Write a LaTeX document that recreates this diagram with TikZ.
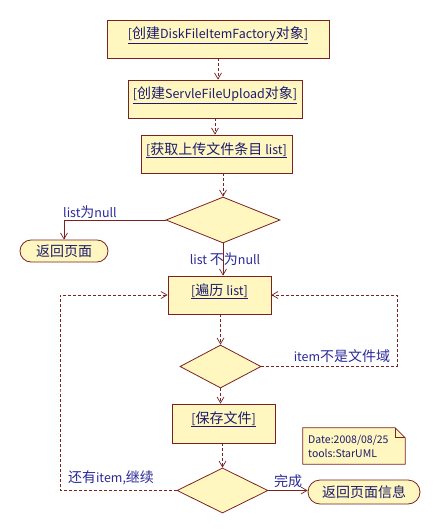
\documentclass[tikz,border=0pt]{standalone}
\usepackage{fontspec}
\setmainfont{Noto Sans CJK SC}
\usetikzlibrary{arrows.meta,shapes.geometric,shapes.misc,calc}
\definecolor{boxfill}{HTML}{FFF7BF}
\definecolor{boxline}{HTML}{7A2222}
\definecolor{txt}{HTML}{1C1C6E}
\definecolor{lbl}{HTML}{2A2A9A}
\newcommand\zh[1]{{\fontsize{14}{14}\selectfont #1}}
\begin{document}
\begin{tikzpicture}[x=1pt,y=-1pt,
  act/.style={rectangle, draw=boxline, fill=boxfill, line width=0.8pt, inner sep=0pt,
    text=txt, font=\fontsize{12.5}{13}\selectfont, text height=19pt, text depth=19pt},
  dia/.style={diamond, draw=boxline, fill=boxfill, line width=0.8pt, inner sep=0pt},
  term/.style={rounded rectangle, draw=boxline, fill=boxfill, line width=0.8pt, inner sep=0pt,
    text=txt, font=\fontsize{12.5}{13}\selectfont},
  lab/.style={text=lbl, font=\fontsize{12.5}{13}\selectfont, inner sep=0pt},
  flow/.style={draw=boxline, line width=0.7pt, dash pattern=on 3pt off 2pt,
    -{Straight Barb[length=6pt,width=7pt]}},
  sflow/.style={draw=boxline, line width=0.7pt,
    -{Straight Barb[length=6pt,width=7pt]}}
]
\useasboundingbox (0,0) rectangle (440,532);
\fill[white] (0,0) rectangle (440,532);

\node[act, minimum width=222pt, minimum height=38pt] (b1) at (218,39)
  {\underline{[\zh{创建}DiskFileItemFactory\zh{对象}]}};
\node[act, minimum width=174pt, minimum height=38pt] (b2) at (215,99)
  {\underline{[\zh{创建}ServleFileUpload\zh{对象}]}};
\node[act, minimum width=151pt, minimum height=38pt] (b3) at (216.5,154)
  {\underline{[\zh{获取上传文件条目} list]}};
\node[dia, minimum width=114pt, minimum height=46pt] (d1) at (223,220) {};
\node[term, minimum width=88pt, minimum height=22pt] (r1) at (64,251) {\zh{返回页面}};
\node[act, minimum width=103pt, minimum height=38pt] (b4) at (219.5,295)
  {\underline{[\zh{遍历} list]}};
\node[dia, minimum width=81pt, minimum height=43pt] (d2) at (220.5,366.5) {};
\node[act, minimum width=103pt, minimum height=39pt, text depth=20pt] (b5) at (223.5,423.5)
  {\underline{[\zh{保存文件}]}};
\node[dia, minimum width=91pt, minimum height=45pt] (d3) at (222.5,490.5) {};
\node[term, minimum width=112pt, minimum height=24pt] (r2) at (364,492) {\zh{返回页面信息}};

% note
\node[rectangle, minimum width=102pt, minimum height=36pt, inner sep=0pt] (note) at (354,446) {};
\fill[boxfill] (note.north west) -- ($(note.north east)+(-10,0)$) -- ($(note.north east)+(0,10)$)
  -- (note.south east) -- (note.south west) -- cycle;
\draw[boxline, line width=0.8pt] (note.north west) -- ($(note.north east)+(-10,0)$) -- ($(note.north east)+(0,10)$)
  -- (note.south east) -- (note.south west) -- cycle;
\draw[boxline, line width=0.8pt] ($(note.north east)+(-10,0)$) -- ($(note.north east)+(-10,10)$) -- ($(note.north east)+(0,10)$);
\node[text=txt, font=\fontsize{10.5}{14}\selectfont, align=left, anchor=west, inner sep=0pt] (notetext) at (308,446)
  {Date:2008/08/25\\tools:StarUML};

% connectors
\draw[flow] (b1.south) -- (b1.south |- b2.north);
\draw[flow] (b2.south) -- (b2.south |- b3.north);
\draw[flow] (b3.south -| d1) -- (d1.north);
\draw[sflow] (d1.west) -| (r1.north);
\draw[sflow] (d1.south) -- (d1.south |- b4.north);
\draw[flow] (b4.south -| d2) -- (d2.north);
\draw[flow] (d2.south) -- (d2.south |- b5.north);
\draw[flow] (b5.south -| d3) -- (d3.north);
\draw[sflow] (d3.east) -- (d3.east -| r2.west);
\coordinate (ll) at (60,390);
\coordinate (rr) at (397,330);
\draw[flow] (d3.west) -| (ll) |- (b4.west);
\draw[flow] (d2.east) -| (rr) |- (b4.east);

% labels
\node[lab] (l1) at (90,212) {list\zh{为}null};
\node[lab] (l2) at (225,259) {list \zh{不为}null};
\node[lab] (l3) at (342,356) {item\zh{不是文件域}};
\node[lab] (l4) at (111,478) {\zh{还有}item,\zh{继续}};
\node[lab] (l5) at (288,481) {\zh{完成}};
\end{tikzpicture}
\end{document}
